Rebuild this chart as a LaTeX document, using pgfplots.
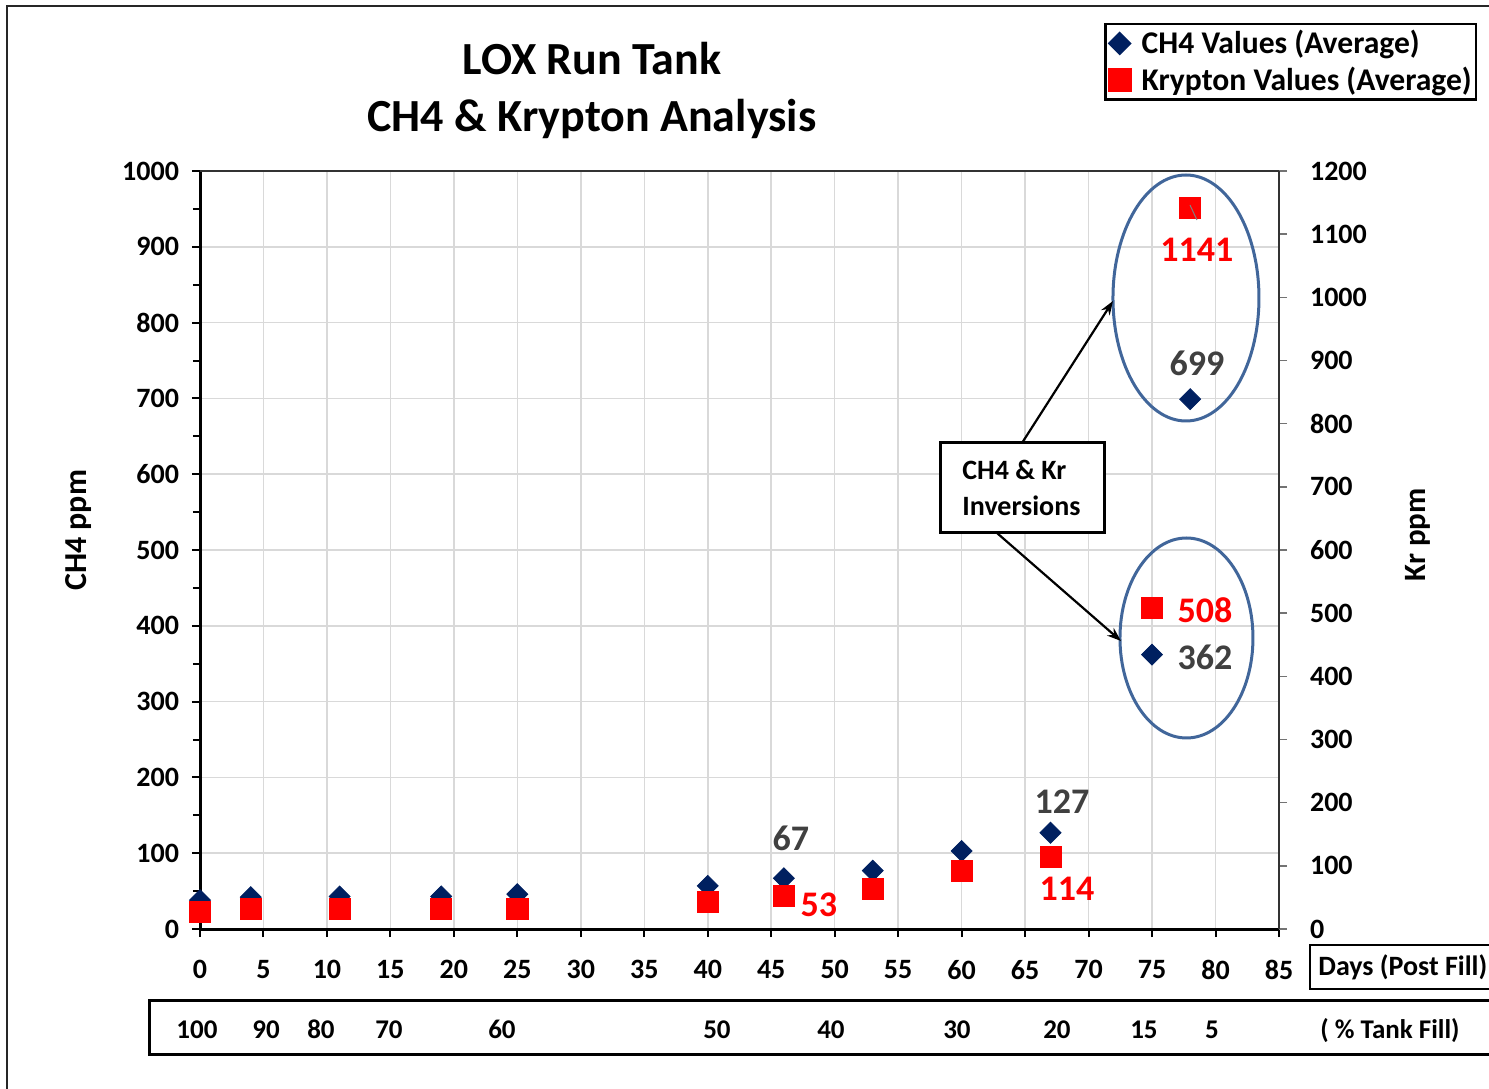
\documentclass[border=0pt]{standalone}
\usepackage{pgfplots}
\pgfplotsset{compat=1.18}
\usepackage{fontspec}
\setmainfont{Carlito}
\usetikzlibrary{arrows.meta}
\definecolor{navy}{HTML}{002060}
\definecolor{lblgray}{HTML}{404040}
\definecolor{ellblue}{HTML}{41669A}
\begin{document}
\begin{tikzpicture}
\useasboundingbox (0,0) rectangle (744.5bp,-544.5bp);
\begin{axis}[
  at={(100bp,-464.5bp)}, anchor=south west,
  scale only axis, width=539.5bp, height=379bp,
  xmin=0, xmax=85, ymin=0, ymax=1000,
  axis x line*=bottom, axis y line*=left,
  axis line style={line width=1.5bp},
  xtick={0,5,...,85}, ytick={0,100,...,1000},
  minor y tick num=1,
  tick align=outside,
  major tick length=4bp, minor tick length=3.5bp,
  tick style={line width=1bp, black},
  grid=major, major grid style={draw=black!15, line width=0.75bp},
  ticklabel style={font=\fontsize{14bp}{17bp}\selectfont\bfseries},
  /pgf/number format/assume math mode=true,
  /pgf/number format/1000 sep={},
  xticklabel style={yshift=-8bp},
  yticklabel style={xshift=-3bp},
  ylabel={CH4 ppm},
  ylabel style={at={(axis description cs:-0.113,0.526)}, anchor=center, font=\fontsize{16bp}{19bp}\selectfont\bfseries},
]
\addplot[only marks, mark=square*, mark size=3.7bp, mark options={rotate=45, fill=navy, draw=navy}] coordinates {
(0,38) (4,42) (11,43) (19,43) (25,46) (40,57) (46,67) (53,77) (60,103) (67,127) (78,699) (75,362)
};
\end{axis}
\begin{axis}[
  at={(100bp,-464.5bp)}, anchor=south west,
  scale only axis, width=539.5bp, height=379bp,
  xmin=0, xmax=85, ymin=0, ymax=1200,
  axis x line*=top, axis y line*=right,
  axis line style={line width=1bp, black!80},
  xtick=\empty, ytick={0,100,...,1200},
  tick align=outside, major tick length=4bp,
  tick style={line width=0.75bp, black!55},
  ticklabel style={font=\fontsize{14bp}{17bp}\selectfont\bfseries},
  /pgf/number format/assume math mode=true,
  /pgf/number format/1000 sep={},
  yticklabel style={xshift=8bp},
  ylabel={Kr ppm},
  ylabel style={at={(axis description cs:1.129,0.52)}, anchor=center, font=\fontsize{15.5bp}{19bp}\selectfont\bfseries},
  legend style={at={(1.1835,1.1953)}, anchor=north east, draw=black, line width=1.25bp,
    font=\fontsize{15.8bp}{18bp}\selectfont\bfseries, inner xsep=0bp, inner ysep=1bp, row sep=1.2bp},
  legend cell align=left,
  legend image code/.code={\draw[#1] plot coordinates {(0bp,0bp)}; \path[draw=none,fill=none] (-7bp,0bp) (9bp,0bp);},
]
\addlegendimage{only marks, mark=square*, mark size=3.6bp, mark options={rotate=45, fill=navy, draw=navy}}
\addlegendentry{CH4 Values (Average)}
\addplot[only marks, mark=square*, mark size=5.3bp, mark options={fill=red, draw=red, rounded corners=0.8bp}] coordinates {
(0,27) (4,32) (11,32) (19,32) (25,32) (40,43) (46,53) (53,63) (60,92) (67,114) (78,1141) (75,508)
};
\addlegendentry{Krypton Values (Average)}
\end{axis}
\begin{scope}[x=0.5bp,y=-0.5bp]
 \draw[line width=1.2bp, black!85] (7,1100) -- (7,6) -- (1500,6);
 \node[font=\fontsize{23bp}{27bp}\selectfont\bfseries, anchor=base] at (592,75) {LOX Run Tank};
 \node[font=\fontsize{23bp}{27bp}\selectfont\bfseries, anchor=base] at (592,132) {CH4 \& Krypton Analysis};
 % data labels
 \begin{scope}[every node/.style={font=\fontsize{18bp}{21bp}\selectfont\bfseries}]
 \node[text=lblgray] at (791,838) {67};
 \node[text=red] at (819,905) {53};
 \node[text=lblgray] at (1062,802) {127};
 \node[text=red] at (1067,889) {114};
 \node[text=lblgray] at (1197,363) {699};
 \node[text=red] at (1197,250) {1141};
 \node[text=red] at (1205,610) {508};
 \node[text=lblgray] at (1205,657) {362};
 \end{scope}
 \draw[gray, line width=0.5bp] (1190,205) -- (1197,220);
 % ellipses
 \draw[ellblue, line width=1.5bp] (1186,298) ellipse [x radius=73, y radius=123];
 \draw[ellblue, line width=1.5bp] (1186.5,638) ellipse [x radius=66.5, y radius=100];
 % arrows
 \draw[line width=1.1bp, -{Stealth[length=7bp,width=5bp]}] (1022,443) -- (1113,301);
 \draw[line width=1.1bp, -{Stealth[length=7bp,width=5bp]}] (997,533) -- (1121,641);
 \draw[line width=1.5bp, fill=white] (941,443) rectangle (1105,533);
 \node[font=\fontsize{14bp}{17bp}\selectfont\bfseries, anchor=base west, inner sep=0] at (962,480) {CH4 \& Kr};
 \node[font=\fontsize{14bp}{17bp}\selectfont\bfseries, anchor=base west, inner sep=0] at (962,516) {Inversions};
 % days box
 \draw[line width=1.25bp] (1500,945) -- (1310,945) -- (1310,989) -- (1500,989);
 \node[font=\fontsize{14bp}{17bp}\selectfont\bfseries, anchor=base west, inner sep=0] at (1318,976) {Days (Post Fill)};
 % tank fill box
 \draw[line width=1.5bp] (1500,1001) -- (150,1001) -- (150,1055) -- (1500,1055);
 \begin{scope}[every node/.style={font=\fontsize{13.5bp}{16bp}\selectfont\bfseries, anchor=base, inner sep=0}]
 \node at (197,1039) {100};
 \node at (266,1039) {90};
 \node at (321,1039) {80};
 \node at (389,1039) {70};
 \node at (502,1039) {60};
 \node at (717,1039) {50};
 \node at (831,1039) {40};
 \node at (957,1039) {30};
 \node at (1057,1039) {20};
 \node at (1144,1039) {15};
 \node at (1212,1039) {5};
 \node at (1390,1039) {( \% Tank Fill)};
 \end{scope}
\end{scope}
\end{tikzpicture}
\end{document}
